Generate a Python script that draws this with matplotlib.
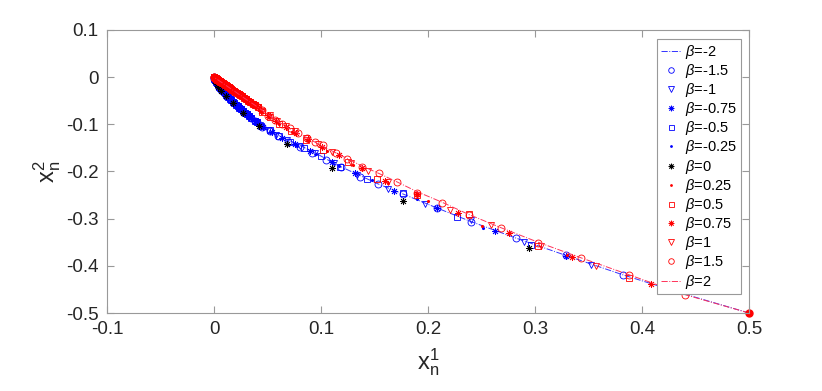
import matplotlib
matplotlib.use("Agg")
import matplotlib.pyplot as plt
from matplotlib.ticker import FixedLocator, FixedFormatter

plt.rcParams['font.family'] = ['Liberation Sans', 'DejaVu Sans']
plt.rcParams['mathtext.fontset'] = 'custom'
plt.rcParams['mathtext.rm'] = 'Liberation Sans'
plt.rcParams['mathtext.it'] = 'Liberation Sans:italic'
plt.rcParams['mathtext.bf'] = 'Liberation Sans:bold'
plt.rcParams['axes.unicode_minus'] = False

# ---------------- data ----------------
start_x = [0.5]
start_y = [-0.5]

# near-origin tails (dense part of the iterations)
upper_tail_x = [0.041, 0.038, 0.036, 0.034, 0.032, 0.030, 0.028, 0.026, 0.0245, 0.023, 0.0215, 0.020,
                0.0185, 0.017, 0.016, 0.015, 0.014, 0.013, 0.012, 0.011, 0.010, 0.009, 0.0082,
                0.0075, 0.0068, 0.006, 0.0054, 0.0048, 0.0042, 0.0037, 0.0032, 0.0028, 0.0024,
                0.002, 0.0016, 0.0013, 0.001, 0.0007, 0.0005, 0.0003, 0.0001, 0.0]
upper_tail_y = [-0.064, -0.059, -0.056, -0.053, -0.050, -0.047, -0.044, -0.0405, -0.038, -0.036, -0.0335, -0.031,
                -0.0288, -0.0265, -0.025, -0.0234, -0.0218, -0.0203, -0.0187, -0.0172, -0.0156, -0.014, -0.0128,
                -0.0117, -0.0106, -0.0094, -0.0084, -0.0075, -0.0066, -0.0058, -0.005, -0.0044, -0.0037,
                -0.0031, -0.0025, -0.002, -0.0016, -0.0011, -0.0008, -0.0005, -0.0002, 0.0]
lower_tail_x = [0.040, 0.038, 0.035, 0.033, 0.031, 0.029, 0.027, 0.025, 0.0235, 0.022, 0.0205, 0.019,
                0.0175, 0.016, 0.0148, 0.0135, 0.0122, 0.011, 0.010, 0.009, 0.0081, 0.0073,
                0.0065, 0.0058, 0.0051, 0.0045, 0.0039, 0.0034, 0.0029, 0.0024, 0.002, 0.0016,
                0.0012, 0.0009, 0.0006, 0.0004, 0.0002, 0.0]
lower_tail_y = [-0.096, -0.092, -0.087, -0.083, -0.079, -0.075, -0.071, -0.068, -0.065, -0.062, -0.058, -0.055,
                -0.052, -0.049, -0.046, -0.043, -0.040, -0.037, -0.0345, -0.032, -0.0295, -0.027,
                -0.025, -0.023, -0.021, -0.019, -0.017, -0.015, -0.0133, -0.0115, -0.010, -0.0085,
                -0.007, -0.0055, -0.0042, -0.003, -0.0018, 0.0]

bm2_x = [0.5, 0.44, 0.382, 0.329, 0.282, 0.240, 0.208, 0.177, 0.153, 0.132, 0.114, 0.099, 0.086, 0.074, 0.064, 0.055, 0.047]
bm2_y = [-0.5, -0.46, -0.419, -0.378, -0.341, -0.306, -0.277, -0.248, -0.226, -0.204, -0.185, -0.166, -0.151, -0.138, -0.128, -0.117, -0.107]

bm15_x = [0.382, 0.329, 0.282, 0.240, 0.208, 0.177, 0.1536, 0.136, 0.119, 0.1044, 0.092, 0.080, 0.069, 0.06, 0.052, 0.045]
bm15_y = [-0.419, -0.377, -0.341, -0.307, -0.277, -0.248, -0.226, -0.211, -0.190, -0.1755, -0.160, -0.147, -0.137, -0.125, -0.114, -0.105]

bm1_x = [0.352, 0.290, 0.240, 0.197, 0.163, 0.134, 0.112, 0.094, 0.080, 0.068, 0.058, 0.050, 0.043]
bm1_y = [-0.398, -0.349, -0.303, -0.269, -0.238, -0.207, -0.182, -0.161, -0.146, -0.134, -0.122, -0.112, -0.102]

bm075_x = [0.329, 0.263, 0.208, 0.168, 0.132, 0.110, 0.0897, 0.076, 0.064, 0.054, 0.046, 0.040]
bm075_y = [-0.379, -0.326, -0.277, -0.241, -0.204, -0.179, -0.156, -0.142, -0.128, -0.117, -0.106, -0.096]

bm05_x = [0.296, 0.227, 0.177, 0.143, 0.118, 0.1, 0.084, 0.071, 0.061, 0.052, 0.044]
bm05_y = [-0.356, -0.296, -0.246, -0.215, -0.190, -0.168, -0.151, -0.137, -0.125, -0.113, -0.103]

bm025_x = [0.251, 0.19, 0.148, 0.117, 0.095, 0.078, 0.064, 0.053, 0.044]
bm025_y = [-0.320, -0.259, -0.219, -0.189, -0.163, -0.145, -0.130, -0.117, -0.104]

b0_x = [0.294, 0.177, 0.110, 0.068, 0.0425, 0.0271, 0.0173, 0.0109, 0.0065, 0.004, 0.0025, 0.0015, 0.0009, 0.0005, 0.0002, 0.0]
b0_y = [-0.362, -0.262, -0.192, -0.142, -0.1045, -0.0753, -0.0553, -0.0392, -0.0286, -0.021, -0.015, -0.011, -0.008, -0.0055, -0.003, 0.0]

bp025_x = [0.42, 0.33, 0.25, 0.20, 0.163, 0.13, 0.106, 0.088, 0.073, 0.061, 0.051]
bp025_y = [-0.447, -0.378, -0.316, -0.262, -0.224, -0.186, -0.157, -0.136, -0.117, -0.1, -0.085]

bp05_x = [0.388, 0.303, 0.238, 0.19, 0.1526, 0.125, 0.1016, 0.086, 0.072, 0.061, 0.052, 0.045]
bp05_y = [-0.426, -0.359, -0.291, -0.249, -0.216, -0.179, -0.154, -0.133, -0.115, -0.099, -0.085, -0.073]

bp075_x = [0.408, 0.335, 0.276, 0.228, 0.19, 0.160, 0.138, 0.117, 0.101, 0.088, 0.077, 0.067, 0.058, 0.050, 0.044]
bp075_y = [-0.439, -0.382, -0.330, -0.289, -0.247, -0.220, -0.193, -0.166, -0.148, -0.132, -0.118, -0.105, -0.093, -0.081, -0.072]

bp1_x = [0.422, 0.357, 0.306, 0.259, 0.221, 0.19, 0.163, 0.144, 0.128, 0.110, 0.097, 0.086, 0.076, 0.067, 0.059, 0.052, 0.045]
bp1_y = [-0.451, -0.400, -0.358, -0.313, -0.281, -0.250, -0.222, -0.198, -0.182, -0.158, -0.142, -0.128, -0.115, -0.103, -0.092, -0.081, -0.071]

bp15_x = [0.44, 0.388, 0.343, 0.303, 0.268, 0.238, 0.213, 0.19, 0.171, 0.1545, 0.138, 0.1246, 0.114, 0.102,
          0.094, 0.0866, 0.0787, 0.071, 0.0633, 0.057, 0.050, 0.0446]
bp15_y = [-0.462, -0.420, -0.384, -0.351, -0.320, -0.293, -0.266, -0.245, -0.2215, -0.204, -0.19, -0.174, -0.161, -0.144,
          -0.137, -0.129, -0.118, -0.107, -0.099, -0.090, -0.082, -0.0695]

bp2_x = [0.5, 0.44, 0.388, 0.343, 0.303, 0.268, 0.238, 0.213, 0.19, 0.171, 0.154, 0.138, 0.124, 0.11, 0.098, 0.087, 0.077, 0.068, 0.06, 0.053]
bp2_y = [-0.5, -0.461, -0.419, -0.383, -0.350, -0.319, -0.291, -0.265, -0.243, -0.222, -0.204, -0.188, -0.172, -0.156, -0.142, -0.129, -0.117, -0.106, -0.094, -0.083]

x_ticks = [-0.1, 0.0, 0.1, 0.2, 0.3, 0.4, 0.5]
x_tick_labels = ['-0.1', '0', '0.1', '0.2', '0.3', '0.4', '0.5']
y_ticks = [-0.5, -0.4, -0.3, -0.2, -0.1, 0.0, 0.1]
y_tick_labels = ['-0.5', '-0.4', '-0.3', '-0.2', '-0.1', '0', '0.1']

# ---------------- plot ----------------
fig = plt.figure(figsize=(8.22, 3.91), dpi=100)
ax = fig.add_axes([107/822, 1-313/391, (749-107)/822, (313-30)/391])

B = (0, 0, 1)
R = (1, 0, 0)
K = (0, 0, 0)
ast = (8, 2, 0)
ms = 5
mew = 0.6

ax.plot(bm2_x + lower_tail_x, bm2_y + lower_tail_y, '-.', color=(0.2, 0.2, 1), lw=0.7, label=r'$\beta$=-2')
ax.plot(bm15_x + lower_tail_x, bm15_y + lower_tail_y, 'o', color=B, mfc='none', ms=ms, mew=mew, ls='none', label=r'$\beta$=-1.5')
ax.plot(bm1_x + lower_tail_x, bm1_y + lower_tail_y, 'v', color=B, mfc='none', ms=ms, mew=mew, ls='none', label=r'$\beta$=-1')
ax.plot(bm075_x + lower_tail_x, bm075_y + lower_tail_y, marker=ast, color=B, ms=ms, mew=mew, ls='none', label=r'$\beta$=-0.75')
ax.plot(bm05_x + lower_tail_x, bm05_y + lower_tail_y, 's', color=B, mfc='none', ms=ms-0.5, mew=mew, ls='none', label=r'$\beta$=-0.5')
ax.plot(bm025_x + lower_tail_x, bm025_y + lower_tail_y, '.', color=B, ms=2.5, ls='none', label=r'$\beta$=-0.25')
ax.plot(b0_x, b0_y, marker=ast, color=K, ms=ms, mew=mew, ls='none', label=r'$\beta$=0')
ax.plot(bp025_x + upper_tail_x, bp025_y + upper_tail_y, '.', color=R, ms=2.5, ls='none', label=r'$\beta$=0.25')
ax.plot(bp05_x + upper_tail_x, bp05_y + upper_tail_y, 's', color=R, mfc='none', ms=ms-0.5, mew=mew, ls='none', label=r'$\beta$=0.5')
ax.plot(bp075_x + upper_tail_x, bp075_y + upper_tail_y, marker=ast, color=R, ms=ms, mew=mew, ls='none', label=r'$\beta$=0.75')
ax.plot(bp1_x + upper_tail_x, bp1_y + upper_tail_y, 'v', color=R, mfc='none', ms=ms, mew=mew, ls='none', label=r'$\beta$=1')
ax.plot(bp15_x + upper_tail_x, bp15_y + upper_tail_y, 'o', color=R, mfc='none', ms=ms, mew=mew, ls='none', label=r'$\beta$=1.5')
ax.plot(bp2_x + upper_tail_x, bp2_y + upper_tail_y, '-.', color=(1, 0.2, 0.35), lw=0.7, label=r'$\beta$=2')
ax.plot(start_x, start_y, 'o', color=R, ms=5, ls='none', clip_on=False)

ax.set_xlim(-0.1, 0.5)
ax.set_ylim(-0.5, 0.1)
ax.xaxis.set_major_locator(FixedLocator(x_ticks))
ax.xaxis.set_major_formatter(FixedFormatter(x_tick_labels))
ax.yaxis.set_major_locator(FixedLocator(y_ticks))
ax.yaxis.set_major_formatter(FixedFormatter(y_tick_labels))

gray = (0.6, 0.6, 0.6)
for s in ax.spines.values():
    s.set_color(gray)
    s.set_linewidth(0.8)
ax.tick_params(direction='in', length=5, width=0.8, color=gray, top=True, right=True,
               labelsize=13.5, labelcolor=(0.15, 0.15, 0.15), pad=6)

ax.set_xlabel(r'$\mathrm{x}_\mathrm{n}^\mathrm{1}$', fontsize=17, color=(0.15, 0.15, 0.15), labelpad=6)
ax.set_ylabel(r'$\mathrm{x}_\mathrm{n}^\mathrm{2}$', fontsize=17, color=(0.15, 0.15, 0.15), labelpad=2)

leg = ax.legend(loc='upper right', bbox_to_anchor=(741/822, 1-39/391), bbox_transform=fig.transFigure,
                fontsize=10.5, frameon=True, fancybox=False, framealpha=1, edgecolor=gray,
                borderaxespad=0, handlelength=1.4, handletextpad=0.3, labelspacing=0.08,
                borderpad=0.25, markerscale=0.8)
leg.get_frame().set_linewidth(0.8)

fig.savefig('out.png', dpi=100)
